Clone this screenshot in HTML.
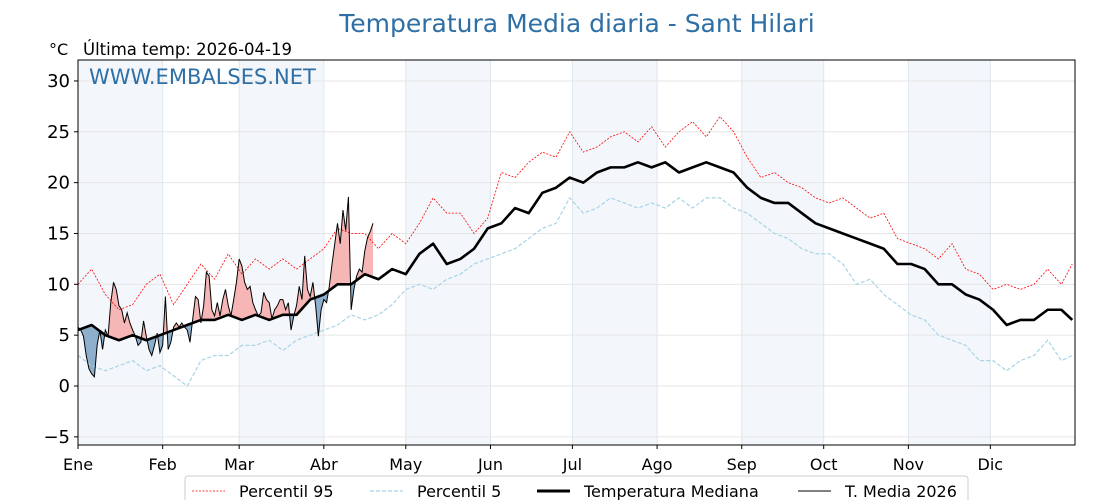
<!DOCTYPE html>
<html><head><meta charset="utf-8"><style>
body{margin:0;background:#fff;width:1120px;height:500px;overflow:hidden;font-family:"DejaVu Sans","Liberation Sans",sans-serif}
</style></head><body>
<svg id="chart" width="1120" height="500" xmlns="http://www.w3.org/2000/svg" font-family="DejaVu Sans, Liberation Sans, sans-serif">
<text x="577" y="32" text-anchor="middle" font-size="25" fill="#2e6fa6">Temperatura Media diaria - Sant Hilari</text>
<text x="49" y="55" font-size="16" fill="#000">°C</text>
<text x="83" y="55" font-size="16.5" fill="#000">Última temp: 2026-04-19</text>
<g id="bands"></g><g id="grid"></g>
<g id="fills"></g><g id="lines"></g>
<rect x="78" y="60" width="997" height="385" fill="none" stroke="#000" stroke-width="1"/>
<text x="89" y="84" font-size="21" fill="#2e6fa6">WWW.EMBALSES.NET</text>
<g id="axes"></g>
<g>
<rect x="185" y="476" width="783" height="34" rx="3" fill="#fff" stroke="#ccc"/>
<line x1="192" y1="491" x2="225" y2="491" stroke="red" stroke-width="0.8" stroke-dasharray="2,1.5"/>
<text x="239" y="497" font-size="16">Percentil 95</text>
<line x1="370" y1="491" x2="403" y2="491" stroke="#a8d4e6" stroke-width="1.2" stroke-dasharray="4,2"/>
<text x="417" y="497" font-size="16">Percentil 5</text>
<line x1="537" y1="491" x2="570" y2="491" stroke="#000" stroke-width="3"/>
<text x="584" y="497" font-size="16">Temperatura Mediana</text>
<line x1="798" y1="491" x2="831" y2="491" stroke="#000" stroke-width="1"/>
<text x="845" y="497" font-size="16">T. Media 2026</text>
</g>
</svg>
<script>
const monthLabels=["Ene","Feb","Mar","Abr","May","Jun","Jul","Ago","Sep","Oct","Nov","Dic"];
const monthStarts=[0,31,59,90,120,151,181,212,243,273,304,334];
const yTicks=[-5,0,5,10,15,20,25,30];
const climDays=[0,5,10,15,20,25,30,35,40,45,50,55,60,65,70,75,80,85,90,95,100,105,110,115,120,125,130,135,140,145,150,155,160,165,170,175,180,185,190,195,200,205,210,215,220,225,230,235,240,245,250,255,260,265,270,275,280,285,290,295,300,305,310,315,320,325,330,335,340,345,350,355,360,364];
const p95=[10,11.5,9,7.5,8,10,11,8,10,12,10.5,13,11,12.5,11.5,12.5,11.5,12.5,13.5,15.5,15,15,13.5,15,14,16,18.5,17,17,15,16.5,21,20.5,22,23,22.5,25,23,23.5,24.5,25,24,25.5,23.5,25,26,24.5,26.5,25,22.5,20.5,21,20,19.5,18.5,18,18.5,17.5,16.5,17,14.5,14,13.5,12.5,14,11.5,11,9.5,10,9.5,10,11.5,10,12];
const p5=[3,2,1.5,2,2.5,1.5,2,1,0,2.5,3,3,4,4,4.5,3.5,4.5,5,5.5,6,7,6.5,7,8,9.5,10,9.5,10.5,11,12,12.5,13,13.5,14.5,15.5,16,18.5,17,17.5,18.5,18,17.5,18,17.5,18.5,17.5,18.5,18.5,17.5,17,16,15,14.5,13.5,13,13,12,10,10.5,9,8,7,6.5,5,4.5,4,2.5,2.5,1.5,2.5,3,4.5,2.5,3];
const median=[5.5,6,5,4.5,5,4.5,5,5.5,6,6.5,6.5,7,6.5,7,6.5,7,7,8.5,9,10,10,11,10.5,11.5,11,13,14,12,12.5,13.5,15.5,16,17.5,17,19,19.5,20.5,20,21,21.5,21.5,22,21.5,22,21,21.5,22,21.5,21,19.5,18.5,18,18,17,16,15.5,15,14.5,14,13.5,12,12,11.5,10,10,9,8.5,7.5,6,6.5,6.5,7.5,7.5,6.5];
const t2026=[5.8,5.5,4.9,3,1.7,1.2,0.9,4,5.5,3.6,5.5,4.9,8.2,10.2,9.5,7.9,7.5,6.2,7.2,6.2,5.5,4.9,4,4.3,6.4,4.9,3.6,3,4,5.2,3.3,4,8.8,3.6,4.3,5.8,6.2,5.8,6.2,5.8,5.5,4.3,6.6,8.8,8.5,6.2,7.9,11.2,10.8,7.5,6.9,8.2,6.9,8.5,9.5,7.9,6.9,8.5,10.2,12.5,11.8,10.2,9.5,9.8,8.2,7.5,6.9,7.2,9.2,8.5,8.2,6.6,7.5,7.9,8.5,8.5,7.5,8.2,5.5,6.9,7.9,9.8,8.5,12.8,9.5,8.8,10.2,7.9,4.9,7.5,8.5,8.2,9.8,12,14,16,14,17.3,15.3,18.6,7.5,9.5,10.8,11.5,11.2,13.3,14.6,15.2,16];
const NS='http://www.w3.org/2000/svg';
const X0=78,X1=1075,Y0=60,Y1=445,YMIN=-5.8,YMAX=32.06;
const xs=d=>X0+d*(X1-X0)/365;
const ys=v=>Y1-(v-YMIN)*(Y1-Y0)/(YMAX-YMIN);
function el(tag,attrs,parent){const e=document.createElementNS(NS,tag);for(const k in attrs)e.setAttribute(k,attrs[k]);document.getElementById(parent).appendChild(e);return e;}
function medAt(d){for(let i=0;i<climDays.length-1;i++){if(d<=climDays[i+1]){const t=(d-climDays[i])/(climDays[i+1]-climDays[i]);return median[i]+t*(median[i+1]-median[i]);}}return median[median.length-1];}
monthStarts.forEach((m,i)=>{if(i%2===0){const end=i+1<12?monthStarts[i+1]:365;
const r=el('rect',{x:xs(m),y:Y0,width:xs(end)-xs(m),height:Y1-Y0,fill:'#f3f7fb'},'bands');

}});
yTicks.forEach(v=>{const l=el('line',{x1:X0,x2:X1,y1:ys(v),y2:ys(v),stroke:'#e6e6e6','stroke-width':1},'grid');


el('line',{x1:X0-4,x2:X0,y1:ys(v),y2:ys(v),stroke:'#000'},'axes');
const t=el('text',{x:X0-8,y:ys(v)+6,'text-anchor':'end','font-size':18},'axes');t.textContent=v<0?'\u2212'+(-v):v;

});
monthStarts.forEach((m,i)=>{const l=el('line',{x1:xs(m),x2:xs(m),y1:Y0,y2:Y1,stroke:'#dfe6ec','stroke-width':1},'grid');


el('line',{x1:xs(m),x2:xs(m),y1:Y1,y2:Y1+4,stroke:'#000'},'axes');
const t=el('text',{x:xs(m),y:Y1+25,'text-anchor':'middle','font-size':16},'axes');t.textContent=monthLabels[i];

});
const defs=el('defs',{},'fills');
const md=t2026.map((v,d)=>medAt(d));
const medPts=md.map((v,d)=>xs(d)+','+ys(v)).join(' ');
const last=t2026.length-1;
const cpA=document.createElementNS(NS,'clipPath');cpA.setAttribute('id','above');defs.appendChild(cpA);
const pa=document.createElementNS(NS,'polygon');pa.setAttribute('points',xs(0)+','+Y0+' '+medPts+' '+xs(last)+','+Y0);cpA.appendChild(pa);
const cpB=document.createElementNS(NS,'clipPath');cpB.setAttribute('id','below');defs.appendChild(cpB);
const pb=document.createElementNS(NS,'polygon');pb.setAttribute('points',xs(0)+','+Y1+' '+medPts+' '+xs(last)+','+Y1);cpB.appendChild(pb);
const tPts=t2026.map((v,d)=>xs(d)+','+ys(v)).join(' ');
const areaPts=tPts+' '+md.map((v,d)=>xs(d)+','+ys(v)).reverse().join(' ');
const fa=el('polygon',{points:areaPts,fill:'#f7b6b6','clip-path':'url(#above)'},'fills');


const fb=el('polygon',{points:areaPts,fill:'#8eafcc','clip-path':'url(#below)'},'fills');


const climPts=arr=>arr.map((v,i)=>xs(climDays[i])+','+ys(v)).join(' ');
const l95=el('polyline',{points:climPts(p95),fill:'none',stroke:'red','stroke-width':0.8,'stroke-dasharray':'2,1.5'},'lines');


const l5=el('polyline',{points:climPts(p5),fill:'none',stroke:'#a8d4e6','stroke-width':1.2,'stroke-dasharray':'4,2'},'lines');


const lm=el('polyline',{points:climPts(median),fill:'none',stroke:'#000','stroke-width':2.6,'stroke-linejoin':'round'},'lines');


const lt=el('polyline',{points:tPts,fill:'none',stroke:'#000','stroke-width':1},'lines');


</script>
</body></html>
